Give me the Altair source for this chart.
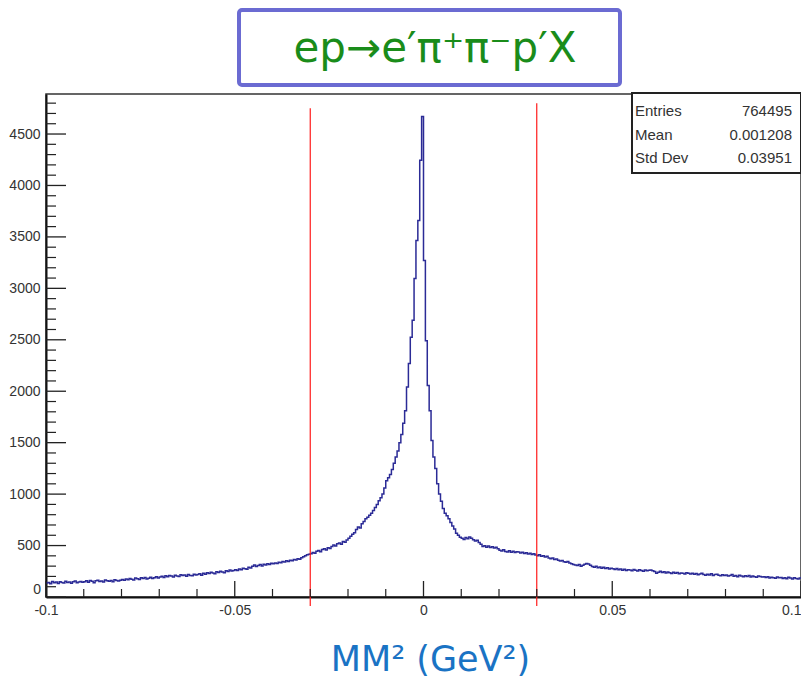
import altair as alt
import numpy as np
import pandas as pd

# ---------------- data ----------------
# 400 bins of width 0.0005 over [-0.1, 0.1]; each row = 20 bins (0.01 in x)
counts_m100 = [135, 142, 128, 150, 138, 145, 132, 148, 140, 136, 152, 141, 146, 133, 149, 155, 138, 147, 151, 143]
counts_m090 = [148, 157, 144, 160, 152, 139, 158, 163, 150, 155, 147, 166, 158, 153, 161, 149, 168, 160, 156, 164]
counts_m080 = [170, 162, 175, 168, 180, 172, 166, 184, 177, 171, 186, 179, 190, 175, 183, 192, 181, 188, 196, 185]
counts_m070 = [194, 201, 189, 206, 198, 210, 203, 195, 212, 205, 200, 216, 208, 213, 202, 219, 210, 206, 221, 214]
counts_m060 = [218, 225, 212, 230, 222, 235, 228, 240, 233, 226, 245, 238, 250, 242, 236, 255, 248, 262, 252, 258]
counts_m050 = [265, 258, 272, 266, 280, 274, 270, 288, 282, 300, 310, 296, 305, 315, 302, 318, 310, 322, 315, 328]
counts_m040 = [322, 330, 325, 338, 332, 345, 340, 352, 346, 358, 352, 365, 360, 372, 368, 382, 392, 400, 410, 415]
counts_m030 = [420, 432, 425, 445, 452, 440, 462, 470, 458, 478, 472, 490, 505, 495, 518, 525, 512, 540, 532, 555]
counts_m020 = [570, 590, 610, 625, 655, 680, 670, 712, 735, 760, 775, 795, 815, 840, 870, 900, 935, 965, 1000, 1060]
counts_m010 = [1130, 1160, 1190, 1240, 1300, 1360, 1420, 1500, 1580, 1690, 1810, 2040, 2270, 2525, 2690, 3095, 3465, 3660, 4245, 4670]
counts_p000 = [3270, 2490, 2055, 1810, 1520, 1360, 1250, 1100, 1000, 930, 860, 815, 790, 760, 725, 690, 660, 620, 600, 580]
counts_p010 = [572, 560, 578, 566, 582, 570, 556, 545, 552, 530, 512, 490, 498, 484, 495, 480, 488, 476, 484, 470]
counts_p020 = [455, 448, 460, 442, 438, 450, 436, 445, 432, 440, 438, 428, 435, 422, 430, 418, 425, 412, 420, 408]
counts_p030 = [402, 410, 395, 400, 388, 395, 380, 372, 378, 365, 370, 358, 350, 355, 342, 338, 345, 330, 322, 315]
counts_p040 = [310, 305, 315, 300, 308, 318, 326, 320, 308, 296, 290, 298, 285, 292, 280, 288, 276, 284, 272, 279]
counts_p050 = [275, 268, 278, 264, 272, 260, 270, 258, 266, 262, 255, 268, 260, 252, 264, 258, 250, 262, 256, 260]
counts_p060 = [262, 255, 248, 232, 240, 250, 238, 245, 234, 242, 236, 228, 240, 232, 238, 226, 234, 230, 224, 236]
counts_p070 = [230, 224, 232, 220, 228, 216, 224, 230, 218, 212, 222, 215, 226, 210, 218, 222, 212, 206, 216, 210]
counts_p080 = [214, 205, 210, 218, 202, 208, 198, 212, 204, 196, 206, 200, 210, 195, 203, 198, 192, 205, 199, 194]
counts_p090 = [198, 190, 196, 185, 193, 188, 182, 195, 186, 190, 180, 188, 178, 192, 184, 176, 186, 180, 175, 184]

x_range = [-0.1, 0.1]
y_max = 4889
bin_width = 0.0005

x_major = [-0.1, -0.05, 0, 0.05, 0.1]
x_minor = [-0.09, -0.08, -0.07, -0.06, -0.04, -0.03, -0.02, -0.01,
           0.01, 0.02, 0.03, 0.04, 0.06, 0.07, 0.08, 0.09]
y_major = [0, 500, 1000, 1500, 2000, 2500, 3000, 3500, 4000, 4500]
y_minor = [v for v in range(100, 4900, 100) if v % 500 != 0]

cut_x = [-0.03, 0.03]
cut_top = [4750, 4800]

stat_labels = ["Entries", "Mean", "Std Dev"]
stat_values = ["764495", "0.001208", "0.03951"]

title_text = "ep\u2192e\u2032\u03c0\u207a\u03c0\u207bp\u2032X"
xaxis_title = "MM\u00b2  (GeV\u00b2)"

# ---------------- build ----------------
W, H = 755, 503
counts = (counts_m100 + counts_m090 + counts_m080 + counts_m070 + counts_m060 +
          counts_m050 + counts_m040 + counts_m030 + counts_m020 + counts_m010 +
          counts_p000 + counts_p010 + counts_p020 + counts_p030 + counts_p040 +
          counts_p050 + counts_p060 + counts_p070 + counts_p080 + counts_p090)
edges = [round(x_range[0] + i * bin_width, 5) for i in range(len(counts))]
hist_df = pd.DataFrame({"x": edges + [x_range[1]], "n": counts + [counts[-1]]})

xs = alt.Scale(domain=x_range, nice=False, zero=False)
ys = alt.Scale(domain=[0, y_max], nice=False, zero=True)
LABEL_FONT = "Liberation Sans, Arial, Helvetica"

x_axis = alt.Axis(
    values=x_major, tickSize=0, labelPadding=6, labelFontSize=14,
    labelFont=LABEL_FONT, labelColor="#333333", labelExpr="'' + datum.value",
    labelAlign={"condition": {"test": "datum.value >= 0.1", "value": "right"}, "value": "center"},
    labelFlush=False, labelOverlap=False, grid=False,
    domainColor="#111111", domainWidth=2,
    titleFont="DejaVu Sans", titleFontSize=35, titleColor="#1a73c4",
    titleFontWeight="normal", titleX=384, titleY=62, titleBaseline="middle",
)
y_axis = alt.Axis(
    values=y_major[1:], format="d", tickSize=0, labelPadding=6, labelFontSize=14,
    labelFont=LABEL_FONT, labelColor="#333333", grid=False,
    labelOverlap=False, domainColor="#111111", domainWidth=2,
)


def X(field):
    return alt.X(field, scale=xs, axis=x_axis, title=xaxis_title)


def Y(field):
    return alt.Y(field, scale=ys, axis=y_axis, title=None)


hist = alt.Chart(hist_df).mark_line(
    interpolate="step-after", color="#2b2b96", strokeWidth=1.5
).encode(x=X("x:Q"), y=Y("n:Q"))

ymaj = alt.Chart(pd.DataFrame({"v": y_major})).mark_rule(color="#222222", strokeWidth=1.3).encode(
    y=Y("v:Q"), x=alt.value(0), x2=alt.value(20))
ymin = alt.Chart(pd.DataFrame({"v": y_minor})).mark_rule(color="#222222", strokeWidth=1.2).encode(
    y=Y("v:Q"), x=alt.value(0), x2=alt.value(10))
xmaj = alt.Chart(pd.DataFrame({"v": x_major})).mark_rule(color="#222222", strokeWidth=1.3).encode(
    x=X("v:Q"), y=alt.value(H), y2=alt.value(H - 16))
xmin = alt.Chart(pd.DataFrame({"v": x_minor})).mark_rule(color="#222222", strokeWidth=1.2).encode(
    x=X("v:Q"), y=alt.value(H), y2=alt.value(H - 8))

# the y-axis "0" label sits a little above the axis line, as in ROOT
zero_label = alt.Chart(pd.DataFrame({"v": y_major[:1]})).mark_text(
    align="right", baseline="middle", font=LABEL_FONT, fontSize=14, color="#333333", dy=-7
).encode(y=Y("v:Q"), x=alt.value(-5), text=alt.Text("v:Q", format="d"))

cuts = alt.Chart(pd.DataFrame({"x": cut_x, "top": cut_top})).mark_rule(
    color="#ff1a1a", strokeWidth=1.2
).encode(x=X("x:Q"), y=Y("top:Q"), y2=alt.value(H + 9))

one = pd.DataFrame({"a": [0]})
stats_box = alt.Chart(one).mark_rect(fill="white", stroke="#222222", strokeWidth=2).encode(
    x=alt.value(586), x2=alt.value(755), y=alt.value(-1), y2=alt.value(79))
stat_layers = []
for lab, val, yy in zip(stat_labels, stat_values, [17, 41, 64]):
    stat_layers.append(alt.Chart(one).mark_text(
        align="left", baseline="middle", font="Liberation Sans Narrow, Liberation Sans, Arial",
        fontSize=15, color="#333333").encode(x=alt.value(589), y=alt.value(yy), text=alt.value(lab)))
    stat_layers.append(alt.Chart(one).mark_text(
        align="right", baseline="middle", font="Liberation Sans Narrow, Liberation Sans, Arial",
        fontSize=15, color="#333333").encode(x=alt.value(746), y=alt.value(yy), text=alt.value(val)))

title_box = alt.Chart(one).mark_rect(
    fill="white", stroke="#6b6bd2", strokeWidth=4, cornerRadius=3
).encode(x=alt.value(193), x2=alt.value(574), y=alt.value(-84), y2=alt.value(-9))
title_mark = alt.Chart(one).mark_text(
    align="center", baseline="middle", font="DejaVu Sans", fontSize=42, color="#1a8c1a"
).encode(x=alt.value(389), y=alt.value(-45), text=alt.value(title_text))

chart = alt.layer(
    hist, cuts, ymaj, ymin, xmaj, xmin, zero_label, stats_box, *stat_layers, title_box, title_mark
).properties(
    width=W, height=H,
    padding={"left": 38, "top": 86, "right": 0, "bottom": 84},
    autosize="none", background="white",
).configure_view(stroke="#333333", strokeWidth=1.5)

chart.save("out.html", embed_options={"renderer": "svg", "actions": False})
